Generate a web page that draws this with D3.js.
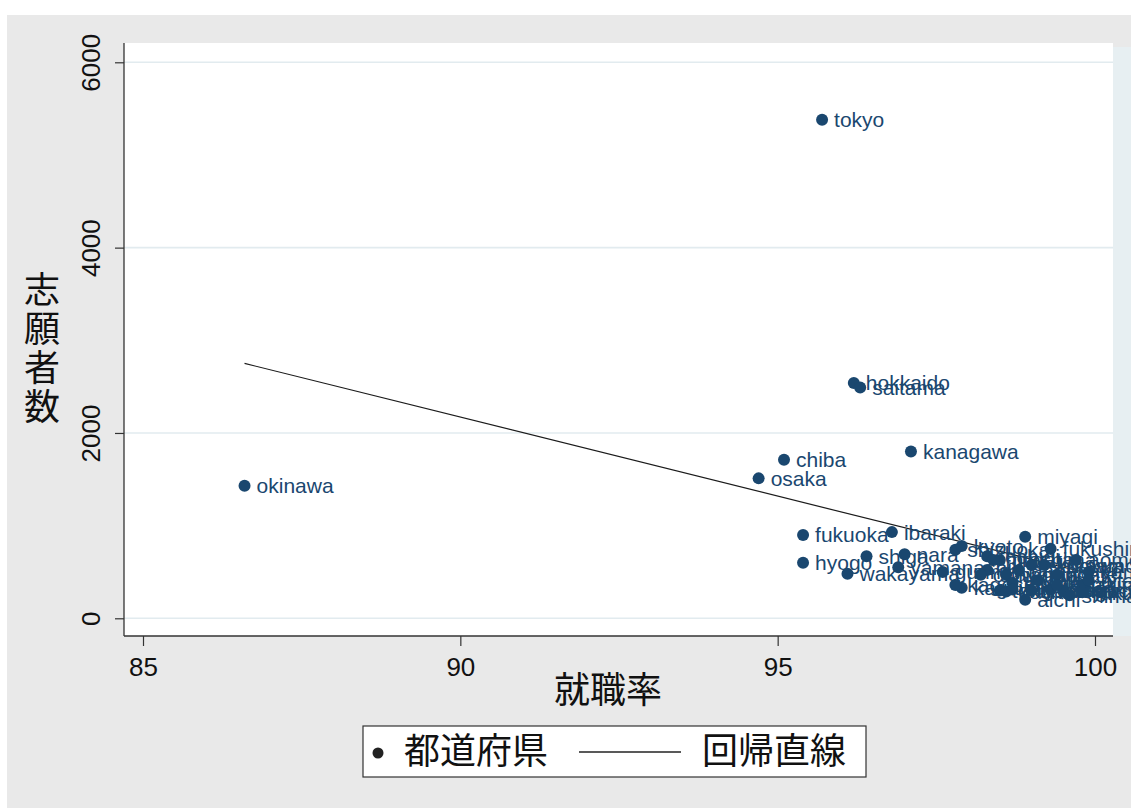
<!DOCTYPE html>
<html>
<head>
<meta charset="utf-8">
<script src="https://cdn.jsdelivr.net/npm/d3@7"></script>
<style>
  html, body { margin: 0; padding: 0; background: #ffffff; }
  svg { display: block; }
</style>
</head>
<body>
<svg id="chart" width="1131" height="808"></svg>
<script>
// Prefecture names (marker labels)
const prefectures = ["hokkaido","aomori","iwate","miyagi","akita","yamagata","fukushima","ibaraki","tochigi","gunma","saitama","chiba","tokyo","kanagawa","niigata","toyama","ishikawa","fukui","yamanashi","nagano","gifu","shizuoka","aichi","mie","shiga","kyoto","osaka","hyogo","nara","wakayama","tottori","shimane","okayama","hiroshima","yamaguchi","tokushima","kagawa","ehime","kochi","fukuoka","saga","nagasaki","kumamoto","oita","miyazaki","kagoshima","okinawa"];

// 就職率 (employment rate, %)
const employmentRate = [96.2,99.7,99.4,98.9,99.8,99.9,99.3,96.8,98.3,97.6,96.3,95.1,95.7,97.1,98.5,99.5,99.0,99.8,96.9,98.6,98.3,97.8,98.9,99.1,96.4,97.9,94.7,95.4,97.0,96.1,99.3,99.6,98.2,98.4,99.0,98.5,97.9,98.7,98.6,95.4,99.4,98.8,99.2,99.9,98.7,97.8,86.6];

// 志願者数 (number of applicants)
const applicants = [2540,630,470,880,360,500,750,930,670,500,2490,1710,5380,1800,630,300,575,280,550,470,520,740,200,410,670,780,1510,600,690,480,310,250,470,630,300,300,330,380,290,900,360,520,575,410,310,360,1430];

// Fitted regression line: [intercept, slope]
const fitCoef = [17516, -170.5];

const xTicks = [85, 90, 95, 100];
const yTicks = [0, 2000, 4000, 6000];

const legendItems = ["都道府県", "回帰直線"];
const xTitle = "就職率";
const yTitle = "志願者数";

const navy = "#1a476f";
const latin = "'Liberation Sans', Arial, sans-serif";
const cjk = "'Noto Sans CJK JP', 'Noto Sans CJK SC', sans-serif";

const svg = d3.select("#chart");

// graph region background
svg.append("rect").attr("x", 7).attr("y", 15).attr("width", 1124).attr("height", 793)
  .attr("fill", "#e9e9e9");

// plot region
const plot = { left: 124, top: 43, right: 1113, bottom: 636 };
svg.append("rect").attr("x", plot.left).attr("y", plot.top)
  .attr("width", plot.right - plot.left).attr("height", plot.bottom - plot.top)
  .attr("fill", "#ffffff");
svg.append("rect").attr("x", plot.right).attr("y", 47)
  .attr("width", 1131 - plot.right).attr("height", plot.bottom - 47)
  .attr("fill", "#e7eff2");

const x = d3.scaleLinear().domain([85, 100]).range([143, 1095]);
const y = d3.scaleLinear().domain([0, 6000]).range([618.3, 62.3]);

// horizontal grid lines
svg.append("g").selectAll("line").data(yTicks).join("line")
  .attr("x1", plot.left).attr("x2", plot.right)
  .attr("y1", d => y(d)).attr("y2", d => y(d))
  .attr("stroke", "#e2ebef").attr("stroke-width", 1.6);

// y axis
const yAxis = svg.append("g").attr("transform", `translate(${plot.left},0)`)
  .call(d3.axisLeft(y).tickValues(yTicks).tickSize(9).tickFormat(d3.format("d")));
yAxis.select(".domain").remove();
yAxis.selectAll(".tick line").attr("stroke", "#333").attr("stroke-width", 1.2);
yAxis.selectAll(".tick text").remove();
yAxis.selectAll(".tick").append("text")
  .attr("transform", "translate(-24,0) rotate(-90)")
  .attr("text-anchor", "middle")
  .attr("fill", "#111")
  .style("font-family", latin).style("font-size", "26px")
  .text(d => d3.format("d")(d));

// x axis
const xAxis = svg.append("g").attr("transform", `translate(0,${plot.bottom})`)
  .call(d3.axisBottom(x).tickValues(xTicks).tickSize(10).tickFormat(d3.format("d")));
xAxis.select(".domain").remove();
xAxis.selectAll(".tick line").attr("stroke", "#333").attr("stroke-width", 1.2);
xAxis.selectAll(".tick text")
  .attr("y", 40).attr("dy", null)
  .attr("fill", "#111")
  .style("font-family", latin).style("font-size", "26px");

// axis lines
svg.append("line").attr("x1", plot.left).attr("x2", plot.left)
  .attr("y1", plot.top).attr("y2", plot.bottom)
  .attr("stroke", "#333").attr("stroke-width", 1.3);
svg.append("line").attr("x1", plot.left).attr("x2", plot.right)
  .attr("y1", plot.bottom).attr("y2", plot.bottom)
  .attr("stroke", "#333").attr("stroke-width", 1.3);

// regression line across the observed range
const xExt = d3.extent(employmentRate);
const fit = v => fitCoef[0] + fitCoef[1] * v;
svg.append("line")
  .attr("x1", x(xExt[0])).attr("y1", y(fit(xExt[0])))
  .attr("x2", x(xExt[1])).attr("y2", y(fit(xExt[1])))
  .attr("stroke", "#1b1b1b").attr("stroke-width", 1.2);

// markers with labels
const pts = prefectures.map((name, i) => ({ name, rate: employmentRate[i], n: applicants[i] }));
const g = svg.append("g").selectAll("g").data(pts).join("g")
  .attr("transform", d => `translate(${x(d.rate)},${y(d.n)})`);
g.append("circle").attr("r", 6).attr("fill", navy);
g.append("text").attr("x", 12).attr("y", 7.5)
  .attr("fill", navy)
  .style("font-family", latin).style("font-size", "21px")
  .text(d => d.name);

// axis titles
svg.append("text").attr("x", 608).attr("y", 703).attr("text-anchor", "middle")
  .attr("fill", "#111").style("font-family", cjk).style("font-size", "36px")
  .text(xTitle);
svg.append("g").selectAll("text").data(Array.from(yTitle)).join("text")
  .attr("x", 42).attr("y", (d, i) => 303 + i * 39).attr("text-anchor", "middle")
  .attr("fill", "#111").style("font-family", cjk).style("font-size", "36px")
  .text(d => d);

// legend
const lg = svg.append("g");
lg.append("rect").attr("x", 363).attr("y", 726).attr("width", 503).attr("height", 51)
  .attr("fill", "#ffffff").attr("stroke", "#333").attr("stroke-width", 1.2);
lg.append("circle").attr("cx", 378).attr("cy", 753).attr("r", 5.5).attr("fill", "#222");
lg.append("text").attr("x", 404).attr("y", 764)
  .attr("fill", "#111").style("font-family", cjk).style("font-size", "36px")
  .text(legendItems[0]);
lg.append("line").attr("x1", 579).attr("x2", 681).attr("y1", 752).attr("y2", 752)
  .attr("stroke", "#222").attr("stroke-width", 1.6);
lg.append("text").attr("x", 702).attr("y", 764)
  .attr("fill", "#111").style("font-family", cjk).style("font-size", "36px")
  .text(legendItems[1]);
</script>
</body>
</html>
